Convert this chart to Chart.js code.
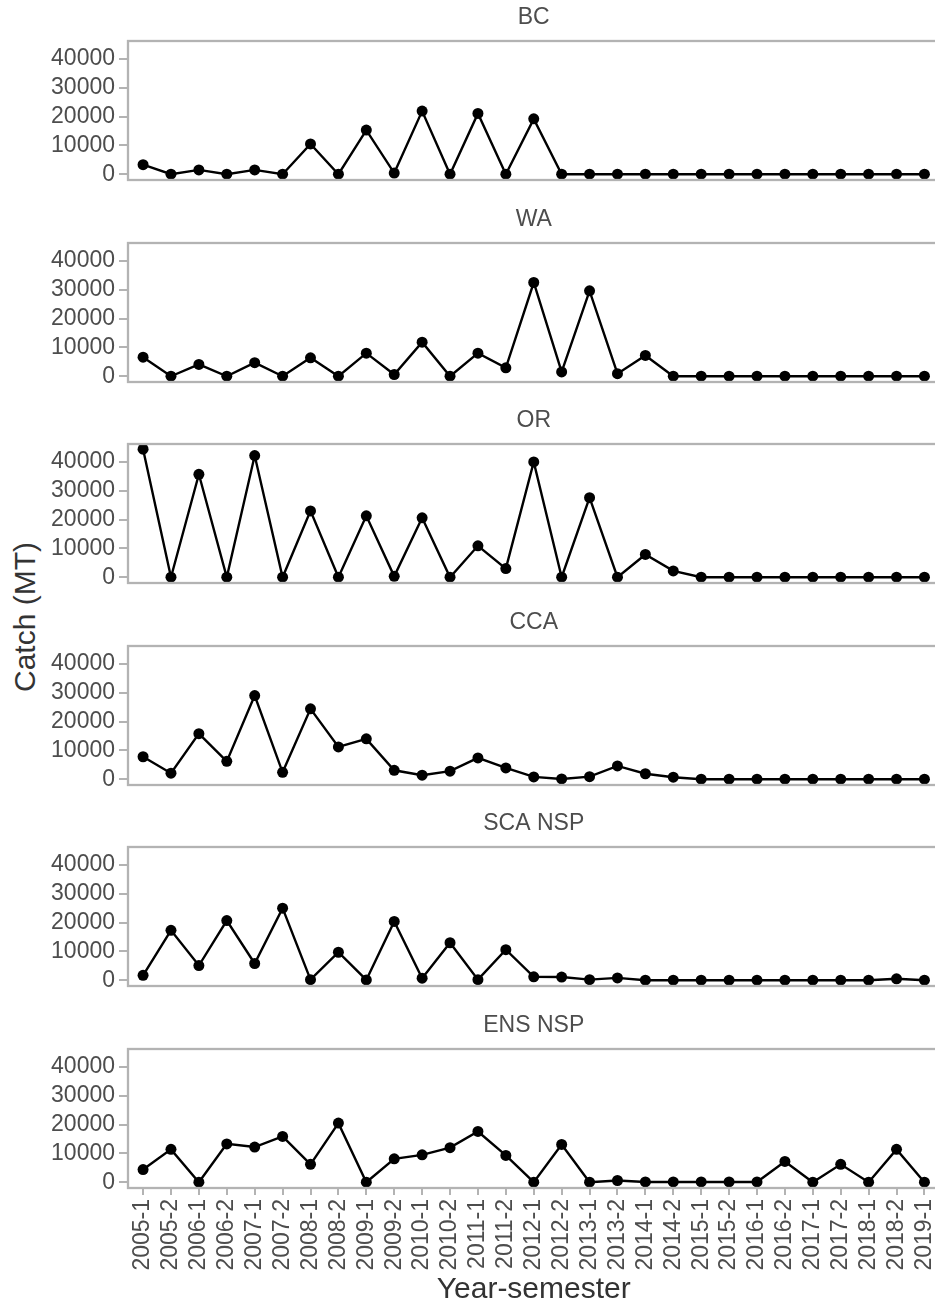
<!DOCTYPE html>
<html><head><meta charset="utf-8">
<script src="https://cdn.jsdelivr.net/npm/chart.js@4/dist/chart.umd.min.js"></script>
<style>
html,body{margin:0;padding:0;width:935px;height:1310px;overflow:hidden;background:#fff;}
#wrap{position:relative;width:935px;height:1310px;overflow:hidden;}
#wrap canvas{position:absolute;left:0;}
#ytitle{position:absolute;left:25px;top:617px;transform:translate(-50%,-50%) rotate(-90deg);font:30px "Liberation Sans",Arial,sans-serif;color:#333;white-space:nowrap;}
</style></head><body><div id="wrap"><div id="ytitle">Catch (MT)</div></div>
<script>
const categories = ['2005-1','2005-2','2006-1','2006-2','2007-1','2007-2','2008-1','2008-2','2009-1','2009-2',
  '2010-1','2010-2','2011-1','2011-2','2012-1','2012-2','2013-1','2013-2','2014-1','2014-2',
  '2015-1','2015-2','2016-1','2016-2','2017-1','2017-2','2018-1','2018-2','2019-1'];
const bcCatch  = [3300,0,1500,0,1500,0,10500,0,15300,400,21900,0,21100,0,19200,0,0,0,0,0,0,0,0,0,0,0,0,0,0];
const waCatch  = [6600,0,4100,0,4700,0,6400,0,8000,600,11800,0,8000,2900,32500,1500,29600,900,7200,0,0,0,0,0,0,0,0,0,0];
const orCatch  = [44400,0,35700,0,42200,0,23000,0,21300,300,20600,0,10900,3000,40000,0,27600,0,7900,2200,0,0,0,0,0,0,0,0,0];
const ccaCatch = [7800,2100,15800,6200,29000,2400,24400,11200,14000,3100,1400,2800,7400,3900,800,100,900,4600,1900,700,0,0,0,0,0,0,0,0,0];
const scaNspCatch = [1700,17300,5100,20700,5800,25000,200,9700,100,20400,700,13000,200,10600,1200,1100,200,800,0,0,0,0,0,0,0,0,0,500,0];
const ensNspCatch = [4400,11400,0,13300,12200,15900,6200,20500,0,8100,9500,12000,17600,9300,0,13100,0,600,100,100,100,100,100,7200,0,6200,0,11400,0];
const panelNames = ['BC','WA','OR','CCA','SCA NSP','ENS NSP'];
const panelValues = [bcCatch, waCatch, orCatch, ccaCatch, scaNspCatch, ensNspCatch];
const yTicks = [0,10000,20000,30000,40000];

const FONT = '"Liberation Sans", Arial, sans-serif';
const GRAY = '#b3b3b3', TXT = '#4d4d4d';
Chart.defaults.font.family = FONT;

const frame = {
  id: 'frame',
  afterDraw(chart, args, opts) {
    const {ctx, chartArea: a} = chart;
    ctx.save();
    ctx.strokeStyle = GRAY; ctx.lineWidth = 2.3;
    ctx.strokeRect(a.left, a.top, a.right - a.left, a.bottom - a.top);
    ctx.fillStyle = TXT; ctx.font = '23px ' + FONT;
    ctx.textAlign = 'center'; ctx.textBaseline = 'middle';
    ctx.fillText(opts.text, (a.left + a.right) / 2, a.top - 23);
    ctx.restore();
  }
};

const wrap = document.getElementById('wrap');
panelNames.forEach((name, k) => {
  const last = k === panelNames.length - 1;
  const areaTop = Math.round(41 + 201.6 * k);
  const cTop = areaTop - 40;
  const h = last ? 1310 - cTop : 189;
  const cv = document.createElement('canvas');
  cv.width = 945; cv.height = h;
  cv.style.width = '945px'; cv.style.height = h + 'px'; cv.style.top = cTop + 'px';
  wrap.appendChild(cv);
  new Chart(cv, {
    type: 'line',
    data: { datasets: [{
      data: panelValues[k].map((v, i) => ({x: i, y: v})),
      borderColor: '#000', backgroundColor: '#000', borderWidth: 2.4,
      pointRadius: 5.5, pointBackgroundColor: '#000', pointBorderWidth: 0, tension: 0
    }]},
    plugins: [frame],
    options: {
      responsive: false, animation: false,
      layout: { padding: { top: 40, bottom: last ? 0 : 10, left: 0, right: 4 } },
      plugins: { legend: {display: false}, tooltip: {enabled: false}, frame: {text: name} },
      scales: {
        x: {
          type: 'linear', min: -0.54, max: 28.54, display: last,
          afterBuildTicks: s => { s.ticks = categories.map((c, i) => ({value: i})); },
          afterFit: s => { if (last) { s.height = 122; } s.paddingLeft = 0; s.paddingRight = 0; },
          ticks: { autoSkip: false, maxRotation: 90, minRotation: 90, color: TXT,
                   font: {size: 23}, padding: 4, callback: v => categories[v] },
          grid: { display: true, drawOnChartArea: false, drawTicks: true, tickLength: 7, color: GRAY, lineWidth: 2 },
          border: { display: false },
          title: { display: true, text: 'Year-semester', color: '#333', font: {size: 30}, padding: {top: 0, bottom: 2} }
        },
        y: {
          min: -2000, max: 46200,
          afterBuildTicks: s => { s.ticks = yTicks.map(v => ({value: v})); },
          afterFit: s => { s.width = 128; s.paddingTop = 0; s.paddingBottom = 0; },
          ticks: { color: TXT, font: {size: 23}, padding: 4, callback: v => String(v) },
          grid: { display: true, drawOnChartArea: false, drawTicks: true, tickLength: 9, color: GRAY, lineWidth: 2 },
          border: { display: false }
        }
      }
    }
  });
});
</script></body></html>
